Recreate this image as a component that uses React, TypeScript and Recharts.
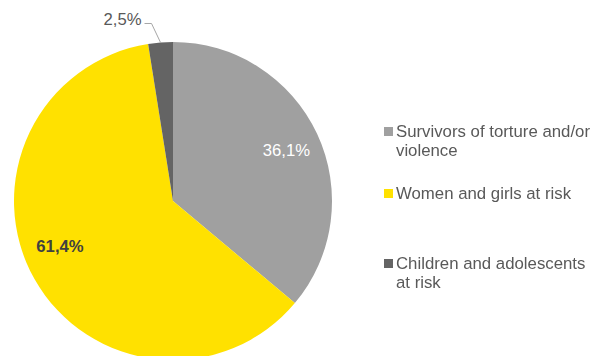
import React from "react";
import { PieChart, Pie, Cell, Legend } from "recharts";

const categories = [
  "Survivors of torture and/or violence",
  "Women and girls at risk",
  "Children and adolescents at risk",
];
const shares = [36.1, 61.4, 2.5];
const colors = ["#A0A0A0", "#FFE100", "#646464"];

const data = categories.map((name, i) => ({ name, value: shares[i] }));

const FONT = "'Liberation Sans', Arial, sans-serif";
const RAD = Math.PI / 180;

const fmt = (v: number) => v.toFixed(1).replace(".", ",") + "%";

// label placement per slice: radius factor and angular nudge (degrees)
const labelStyle = [
  { r: 0.78, nudge: -1.2, fill: "#FFFFFF", weight: 400 },
  { r: 0.765, nudge: -7.8, fill: "#404040", weight: 700 },
];

const renderLabel = (props: any) => {
  const { cx, cy, midAngle, outerRadius, index, value } = props;
  if (index < 2) {
    const s = labelStyle[index];
    const a = (midAngle + s.nudge) * RAD;
    const x = cx + outerRadius * s.r * Math.cos(a);
    const y = cy - outerRadius * s.r * Math.sin(a);
    return (
      <text
        x={x}
        y={y}
        textAnchor="middle"
        dominantBaseline="central"
        fill={s.fill}
        fontWeight={s.weight}
        fontSize={16.7}
        fontFamily={FONT}
      >
        {fmt(value)}
      </text>
    );
  }
  // small slice: label outside with an elbow leader line
  const a = midAngle * RAD;
  const x0 = cx + outerRadius * Math.cos(a);
  const y0 = cy - outerRadius * Math.sin(a);
  const x1 = x0 - 9;
  const y1 = y0 - 19;
  const x2 = x1 - 7;
  return (
    <g>
      <path
        d={`M${x0},${y0} L${x1},${y1} L${x2},${y1}`}
        stroke="#A6A6A6"
        strokeWidth={1}
        fill="none"
      />
      <text
        x={x2 - 3}
        y={y1 + 2}
        textAnchor="end"
        fill="#595959"
        fontSize={16.7}
        fontFamily={FONT}
      >
        {fmt(value)}
      </text>
    </g>
  );
};

const legendGaps = [0, 24, 51];

const renderLegend = () => (
  <div style={{ fontFamily: FONT, fontSize: 16.8, color: "#595959", lineHeight: "19px" }}>
    {categories.map((c, i) => (
      <div
        key={c}
        style={{ display: "flex", alignItems: "flex-start", marginTop: legendGaps[i] }}
      >
        <span
          style={{
            width: 9,
            height: 9,
            background: colors[i],
            marginTop: 5,
            marginRight: 3,
            flex: "0 0 auto",
          }}
        />
        <span style={{ width: 198 }}>{c}</span>
      </div>
    ))}
  </div>
);

export default function App() {
  return (
    <div style={{ position: "fixed", left: 0, top: 0, background: "#fff" }}>
      <PieChart width={592} height={356} margin={{ top: 0, right: 0, bottom: 0, left: 0 }}>
        <Pie
          data={data}
          dataKey="value"
          nameKey="name"
          cx={173}
          cy={201}
          outerRadius={159}
          startAngle={90}
          endAngle={-270}
          stroke="none"
          label={renderLabel}
          labelLine={false}
          isAnimationActive={false}
        >
          {data.map((d, i) => (
            <Cell key={d.name} fill={colors[i]} />
          ))}
        </Pie>
        <Legend
          content={renderLegend}
          layout="vertical"
          wrapperStyle={{ position: "absolute", left: 384, top: 122, width: 210 }}
        />
      </PieChart>
    </div>
  );
}
